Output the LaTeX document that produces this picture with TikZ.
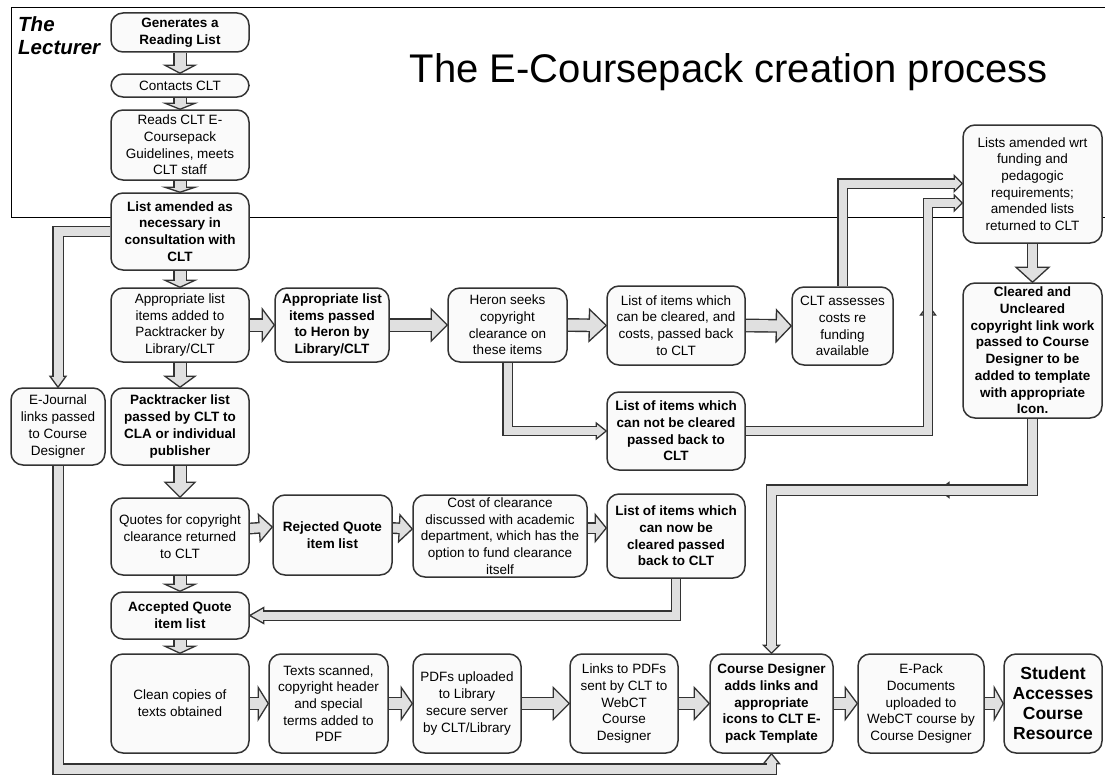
\documentclass[tikz,border=0pt]{standalone}
\usepackage{fontspec}
\setmainfont{Liberation Sans}
\usetikzlibrary{calc}
\definecolor{edgecol}{HTML}{333333}
\definecolor{nodefill}{HTML}{FAFAFA}
\definecolor{arrfill}{HTML}{E0E0E0}
\newcommand\normtext{\fontsize{13.5}{16.7}\selectfont}
\newcommand\bftext{\fontsize{13.5}{16.7}\selectfont\bfseries}
\pgfdeclarelayer{bg}
\pgfsetlayers{bg,main}
\tikzset{
  box/.style={draw=edgecol, fill=nodefill, rounded corners=12pt, line width=1.5pt,
    inner sep=0pt, align=center, font=\normtext},
  bbox/.style={box, font=\bftext},
  headst/.style={fill=arrfill, draw=edgecol, line width=1.3pt, line join=miter},
  outstem/.style={draw=edgecol, line join=miter},
  instem/.style={draw=arrfill, line join=miter},
}
% #1 stem width, #2 outer stem width, #3 head half width, #4 head length,
% #5 path up to prev, #6 prev, #7 tip
\newcommand\barrow[7]{%
  \path #6 coordinate (ba-p);
  \path #7 coordinate (ba-t);
  \coordinate (ba-b) at ($(ba-t)!#4!(ba-p)$);
  \coordinate (ba-l) at ($(ba-b)!#3!90:(ba-t)$);
  \coordinate (ba-r) at ($(ba-b)!#3!-90:(ba-t)$);
  \draw[outstem, line width=#2] #5 -- (ba-b);
  \filldraw[headst] (ba-l) -- (ba-t) -- (ba-r) -- cycle;
  \draw[instem, line width=#1] #5 -- ($(ba-b)!1.4pt!(ba-t)$);
}
\newcommand\colarr[3]{\barrow{11pt}{13.8pt}{15pt}{#3}{(#1.south)}{(#1.south)}{(#2.north)}}
\newcommand\rowarr[3]{\barrow{11pt}{13.8pt}{16pt}{#3}{(#1.east)}{(#1.east)}{(#2.west)}}
\newcommand\midhead[3]{\filldraw[headst] ($#2!#3!90:#1$) -- #1 -- ($#2!#3!-90:#1$) -- cycle;}
\begin{document}
\begin{tikzpicture}[x=1pt,y=-1pt]
\useasboundingbox (0,0) rectangle (1105,776);

% title and lane label
\node[font=\fontsize{40}{44}\selectfont, anchor=base, inner sep=0pt] (title) at (729,82) {The E-Coursepack creation process};
\node[anchor=north west, align=left, inner sep=0pt, font=\fontsize{20.5}{23}\selectfont\bfseries\itshape] (lect) at (18,16) {The\\Lecturer};

% main column
\node[bbox, minimum width=138pt, minimum height=39pt] (n1) at (180,32.5) {Generates a\\Reading List};
\node[box, minimum width=138pt, minimum height=23pt] (n2) at (180,85.5) {Contacts CLT};
\node[box, minimum width=138pt, minimum height=70pt] (n3) at (180,145) {Reads CLT E-\\Coursepack\\Guidelines, meets\\CLT staff};
\node[bbox, minimum width=138pt, minimum height=77pt] (n4) at (180,231.5) {List amended as\\necessary in\\consultation with\\CLT};
\node[box, minimum width=138pt, minimum height=74pt] (n5) at (180,325) {Appropriate list\\items added to\\Packtracker by\\Library/CLT};
\node[bbox, minimum width=138pt, minimum height=77pt] (n6) at (180,426.5) {Packtracker list\\passed by CLT to\\CLA or individual\\publisher};
\node[box, minimum width=138pt, minimum height=77pt] (n7) at (180,536.5) {Quotes for copyright\\clearance returned\\to CLT};
\node[bbox, minimum width=138pt, minimum height=47pt] (n8) at (180,615.5) {Accepted Quote\\item list};
\node[box, minimum width=138pt, minimum height=99pt] (n9) at (180,703.5) {Clean copies of\\texts obtained};
\node[box, minimum width=94pt, minimum height=77pt] (ej) at (58,426.5) {E-Journal\\links passed\\to Course\\Designer};

% row 2
\node[bbox, minimum width=114pt, minimum height=74pt] (a2) at (332,325) {Appropriate list\\items passed\\to Heron by\\Library/CLT};
\node[box, minimum width=119pt, minimum height=74pt] (heron) at (507.5,325) {Heron seeks\\copyright\\clearance on\\these items};
\node[box, minimum width=138pt, minimum height=79pt] (lc) at (676,325.5) {List of items which\\can be cleared, and\\costs, passed back\\to CLT};
\node[box, minimum width=101pt, minimum height=78pt] (ca) at (842.5,326) {CLT assesses\\costs re\\funding\\available};
\node[box, minimum width=139pt, minimum height=118pt] (la) at (1032.5,184) {Lists amended wrt\\funding and\\pedagogic\\requirements;\\amended lists\\returned to CLT};
\node[bbox, minimum width=139pt, minimum height=135pt] (cu) at (1032.5,350.5) {Cleared and\\Uncleared\\copyright link work\\passed to Course\\Designer to be\\added to template\\with appropriate\\Icon.};
\node[bbox, minimum width=138pt, minimum height=78pt] (lnc) at (676,431) {List of items which\\can not be cleared\\passed back to\\CLT};

% row 4
\node[bbox, minimum width=119pt, minimum height=80pt] (rq) at (332.5,535) {Rejected Quote\\item list};
\node[box, minimum width=174pt, minimum height=82pt] (cc) at (500,536) {Cost of clearance\\discussed with academic\\department, which has the\\option to fund clearance\\itself};
\node[bbox, minimum width=138pt, minimum height=84pt] (lnow) at (676,536) {List of items which\\can now be\\cleared passed\\back to CLT};

% row 6
\node[box, minimum width=119pt, minimum height=99pt] (ts) at (328.5,703.5) {Texts scanned,\\copyright header\\and special\\terms added to\\PDF};
\node[box, minimum width=108pt, minimum height=99pt] (pdf) at (467,703.5) {PDFs uploaded\\to Library\\secure server\\by CLT/Library};
\node[box, minimum width=108pt, minimum height=99pt] (links) at (624,703.5) {Links to PDFs\\sent by CLT to\\WebCT\\Course\\Designer};
\node[bbox, minimum width=123pt, minimum height=99pt] (cd) at (771.5,703.5) {Course Designer\\adds links and\\appropriate\\icons to CLT E-\\pack Template};
\node[box, minimum width=126pt, minimum height=99pt] (ep) at (921,703.5) {E-Pack\\Documents\\uploaded to\\WebCT course by\\Course Designer};
\node[box, minimum width=98pt, minimum height=99pt, font=\fontsize{17.5}{20}\selectfont\bfseries] (st) at (1053,703.5) {Student\\Accesses\\Course\\Resource};

\begin{pgfonlayer}{bg}
\fill[white] (0,0) rectangle (1105,776);
% lecturer lane frame
\draw[black, line width=1pt] (1115,8) -- (11,8) -- (11,217) -- (1115,217);

% column arrows
\colarr{n1}{n2}{8pt}
\colarr{n2}{n3}{6pt}
\colarr{n3}{n4}{5pt}
\colarr{n4}{n5}{7pt}
\colarr{n5}{n6}{11pt}
\colarr{n6}{n7}{15pt}
\colarr{n7}{n8}{7pt}
\colarr{n8}{n9}{7pt}

% row 2 arrows
\rowarr{n5}{a2}{12pt}
\rowarr{a2}{heron}{16pt}
\rowarr{heron}{lc}{17pt}
\rowarr{lc}{ca}{15pt}
\barrow{9pt}{11.8pt}{16.5pt}{15pt}{(la.south)}{(la.south)}{(cu.north)}

% row 4 arrows
\barrow{9pt}{11.8pt}{13.5pt}{13pt}{($(n7.east)+(0,-8)$)}{($(n7.east)+(0,-8)$)}{($(rq.west)+(0,-8)$)}
\barrow{9pt}{11.8pt}{13.5pt}{13pt}{($(rq.east)+(0,-7)$)}{($(rq.east)+(0,-7)$)}{($(cc.west)+(0,-7)$)}
\barrow{9pt}{11.8pt}{13.5pt}{11pt}{($(cc.east)+(0,-8)$)}{($(cc.east)+(0,-8)$)}{($(lnow.west)+(0,-8)$)}

% row 6 arrows
\rowarr{n9}{ts}{10pt}
\rowarr{ts}{pdf}{11pt}
\rowarr{pdf}{links}{16pt}
\rowarr{links}{cd}{15pt}
\rowarr{cd}{ep}{12pt}
\rowarr{ep}{st}{9pt}

% thin routed connectors
\barrow{9pt}{11.8pt}{8pt}{11pt}{(n4.west) -- (n4.west -| ej.north)}{(n4.west -| ej.north)}{(ej.north)}
\barrow{9pt}{11.8pt}{8pt}{10pt}{(ej.south) -- (ej.south |- 0,769) -- (cd.south |- 0,769)}{(cd.south |- 0,769)}{(cd.south)}
\barrow{8pt}{10.8pt}{8pt}{10pt}{(heron.south) -- (heron.south |- lnc.west)}{(heron.south |- lnc.west)}{(lnc.west)}
\midhead{(928,305)}{(928,315)}{7.5pt}
\barrow{8pt}{10.8pt}{8pt}{8pt}{(lnc.east) -- (lnc.east -| 928,0) -- (928,203)}{(928,203)}{(la.west |- 0,203)}
\barrow{8pt}{10.8pt}{8pt}{8pt}{(ca.north) -- (ca.north |- 0,183.5)}{(ca.north |- 0,183.5)}{(la.west |- 0,183.5)}
\midhead{(939,490)}{(949,490)}{7.5pt}
\barrow{9pt}{11.8pt}{8pt}{8pt}{(cu.south) -- (cu.south |- 0,490) -- (cd.north |- 0,490)}{(cd.north |- 0,490)}{(cd.north)}
\barrow{8pt}{10.8pt}{8pt}{14pt}{(lnow.south) -- (lnow.south |- n8.east)}{(lnow.south |- n8.east)}{(n8.east)}
\end{pgfonlayer}
\end{tikzpicture}
\end{document}
